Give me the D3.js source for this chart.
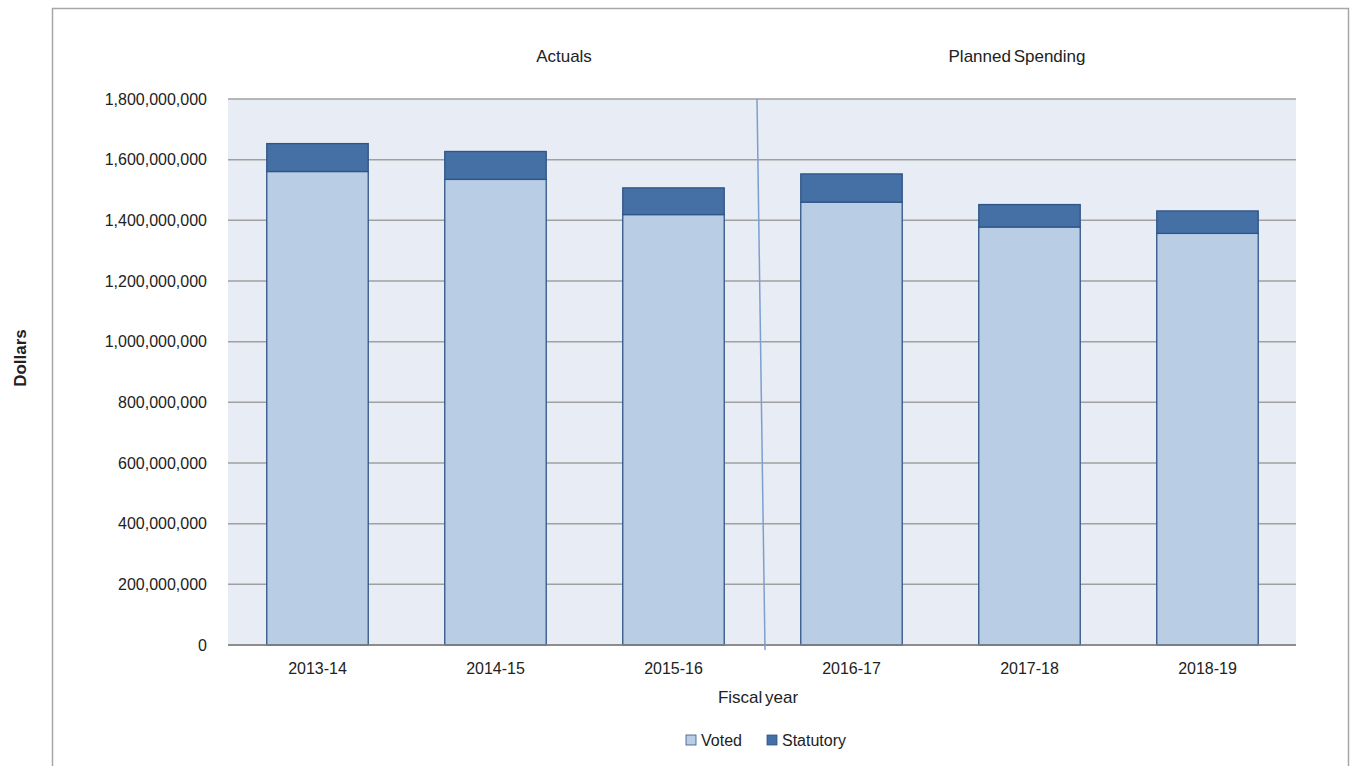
<!DOCTYPE html>
<html><head><meta charset="utf-8">
<script src="https://cdn.jsdelivr.net/npm/d3@7"></script>
<style>body{margin:0;background:#fff;}svg{display:block;font-family:"Liberation Sans",Arial,sans-serif;}</style>
</head><body>
<svg id="c" width="1351" height="766"></svg>
<script>
const categories = ["2013-14","2014-15","2015-16","2016-17","2017-18","2018-19"];
const voted = [1561000000,1535000000,1419000000,1460000000,1378000000,1357000000];
const statutory = [92000000,92000000,88000000,93000000,74000000,74000000];
const yTicks = [0,200000000,400000000,600000000,800000000,1000000000,1200000000,1400000000,1600000000,1800000000];
const seriesNames = ["Voted","Statutory"];
const colors = ["#b9cde5","#4470a6"];

const svg = d3.select("#c");
const L=228,R=1296,T=99,B=645;
// outer frame
svg.append("rect").attr("x",52.5).attr("y",8.5).attr("width",1296).attr("height",800)
  .attr("fill","#fff").attr("stroke","#a6a6a6").attr("stroke-width",1.5);
svg.append("rect").attr("x",L).attr("y",T).attr("width",R-L).attr("height",B-T).attr("fill","#e8ecf4");

const x = d3.scaleBand().domain(categories).range([L,R]).paddingInner(0.43).paddingOuter(0.215);
const y = d3.scaleLinear().domain([0,1800000000]).range([B,T]);
const fmt = d3.format(",");

svg.append("g").selectAll("line").data(yTicks).join("line")
  .attr("x1",L).attr("x2",R).attr("y1",d=>y(d)).attr("y2",d=>y(d))
  .attr("stroke","#a0a0a0").attr("stroke-width",1.5);

const yAxis = d3.axisLeft(y).tickValues(yTicks).tickFormat(fmt).tickSize(0).tickPadding(21);
const gy = svg.append("g").attr("transform",`translate(${L},0)`).call(yAxis);
gy.select(".domain").remove();
gy.selectAll("text").attr("font-size",16).attr("fill","#222").attr("font-family","Liberation Sans, Arial, sans-serif");

const stackData = categories.map((c,i)=>({cat:c,Voted:voted[i],Statutory:statutory[i]}));
const stack = d3.stack().keys(seriesNames)(stackData);
svg.append("g").selectAll("g").data(stack).join("g")
  .attr("fill",(d,i)=>colors[i])
  .selectAll("rect").data(d=>d).join("rect")
  .attr("x",d=>x(d.data.cat)+0.5).attr("width",x.bandwidth())
  .attr("y",d=>y(d[1])).attr("height",d=>y(d[0])-y(d[1]))
  .attr("stroke","#2f5487").attr("stroke-width",1.3);

// baseline
svg.append("line").attr("x1",L).attr("x2",R).attr("y1",B).attr("y2",B).attr("stroke","#808080").attr("stroke-width",1.5);

// divider between actuals and planned
const divX = (x(categories[2])+x.bandwidth()+x(categories[3]))/2;
svg.append("line").attr("x1",divX-5).attr("y1",T).attr("x2",divX+3).attr("y2",B+5)
  .attr("stroke","#7d9fd0").attr("stroke-width",1.5);

const xAxis = d3.axisBottom(x).tickSize(0).tickPadding(18);
const gx = svg.append("g").attr("transform",`translate(0.5,${B})`).call(xAxis);
gx.select(".domain").remove();
gx.selectAll("text").attr("font-size",16).attr("fill","#222").attr("font-family","Liberation Sans, Arial, sans-serif");

svg.append("text").attr("x",564).attr("y",62).attr("text-anchor","middle").attr("font-size",17).attr("fill","#222").text("Actuals");
svg.append("text").attr("x",1017).attr("y",62).attr("text-anchor","middle").attr("font-size",17).attr("fill","#222").attr("word-spacing",-2).text("Planned Spending");
svg.append("text").attr("x",758).attr("y",703).attr("text-anchor","middle").attr("font-size",17).attr("fill","#222").attr("word-spacing",-2).text("Fiscal year");
svg.append("text").attr("transform","translate(26,358) rotate(-90)").attr("text-anchor","middle")
  .attr("font-size",17).attr("font-weight","bold").attr("fill","#222").text("Dollars");

// legend
const legX=[686,767];
const lg = svg.append("g").selectAll("g").data(seriesNames).join("g")
  .attr("transform",(d,i)=>`translate(${legX[i]},735)`);
lg.append("rect").attr("width",10).attr("height",10).attr("fill",(d,i)=>colors[i]).attr("stroke","#2f5487").attr("stroke-width",0.8);
lg.append("text").attr("x",15).attr("y",11).attr("font-size",16).attr("fill","#222").text(d=>d);
</script>
</body></html>
